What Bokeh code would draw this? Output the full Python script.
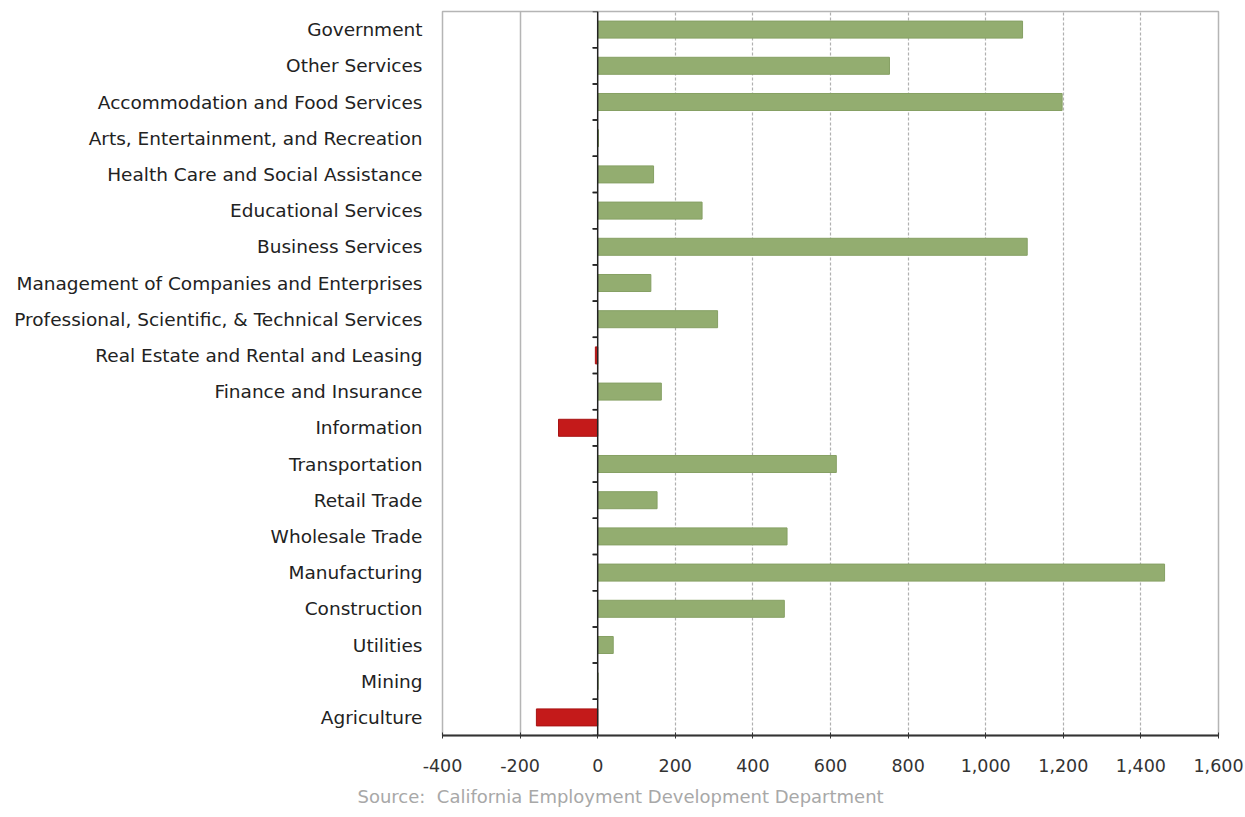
from bokeh.plotting import figure
from bokeh.models import (ColumnDataSource, FactorRange, Span, Grid, FixedTicker,
                          NumeralTickFormatter, Title, Range1d)
from bokeh.transform import dodge
from bokeh.embed import file_html
from bokeh.resources import INLINE

# ---- data (top to bottom as in the chart) ----
industries = [
    "Government", "Other Services", "Accommodation and Food Services",
    "Arts, Entertainment, and Recreation", "Health Care and Social Assistance",
    "Educational Services", "Business Services",
    "Management of Companies and Enterprises",
    "Professional, Scientific, & Technical Services",
    "Real Estate and Rental and Leasing", "Finance and Insurance",
    "Information", "Transportation", "Retail Trade", "Wholesale Trade",
    "Manufacturing", "Construction", "Utilities", "Mining", "Agriculture",
]
job_change = [1095, 752, 1197, 2, 144, 269, 1107, 137, 309, -6, 164,
              -101, 615, 153, 488, 1461, 481, 40, 1, -158]
x_ticks = [-400, -200, 0, 200, 400, 600, 800, 1000, 1200, 1400, 1600]
source_note = "Source:\u00a0 California Employment Development Department"

GREEN = "#93ad70"
GREEN_LINE = "#86a064"
RED = "#c41a1a"
RED_LINE = "#a81414"

colors = [GREEN if v >= 0 else RED for v in job_change]
lines = [GREEN_LINE if v >= 0 else RED_LINE for v in job_change]
src = ColumnDataSource(dict(cat=industries, val=job_change, fill=colors, line=lines,
                            zero=[0] * len(industries), tick0=[-13] * len(industries)))

p = figure(width=1245, height=817, output_backend="svg", toolbar_location=None,
           y_range=FactorRange(factors=list(reversed(industries)), range_padding=0),
           x_range=Range1d(-400, 1600),
           min_border_left=442, min_border_right=27, min_border_top=11,
           min_border_bottom=82)

p.background_fill_color = "white"
p.border_fill_color = "white"
p.outline_line_color = "#b5b5b5"
p.outline_line_width = 1.5

# grid
p.ygrid.visible = False
p.xgrid.ticker = FixedTicker(ticks=[t for t in x_ticks if t > 0 and t < 1600])
p.xgrid.grid_line_color = "#b0b0b0"
p.xgrid.grid_line_dash = "3 2"
p.xgrid.grid_line_width = 1.2
solid_grid = Grid(dimension=0, ticker=FixedTicker(ticks=[t for t in x_ticks if -400 < t < 0]),
                  grid_line_color="#b5b5b5", grid_line_width=1.5)
p.add_layout(solid_grid)

# bars
p.hbar(y="cat", right="val", left=0, height=0.47, source=src,
       fill_color="fill", line_color="line", line_width=1)

# zero line and its ticks
p.add_layout(Span(location=0, dimension="height", line_color="#222222", line_width=1.5))
p.segment(x0="tick0", x1="zero", y0=dodge("cat", 0.5, range=p.y_range),
          y1=dodge("cat", 0.5, range=p.y_range), source=src, line_color="#222222", line_width=1.5)
p.segment(x0="tick0", x1="zero", y0=dodge("cat", -0.5, range=p.y_range),
          y1=dodge("cat", -0.5, range=p.y_range), source=src, line_color="#222222", line_width=1.5)

# x axis
xa = p.xaxis[0]
xa.ticker = FixedTicker(ticks=x_ticks)
xa.formatter = NumeralTickFormatter(format="0,0")
xa.axis_line_color = "#333333"
xa.axis_line_width = 2
xa.major_tick_line_color = "#333333"
xa.major_tick_out = 3
xa.major_tick_in = 3
xa.minor_tick_line_color = None
xa.major_label_standoff = 20
xa.major_label_text_font = "DejaVu Sans"
xa.major_label_text_font_size = "17.5px"
xa.major_label_text_color = "#333333"

# y axis (labels only)
ya = p.yaxis[0]
ya.axis_line_color = None
ya.major_tick_line_color = None
ya.minor_tick_line_color = None
ya.major_label_standoff = 14
ya.major_label_text_font = "DejaVu Sans"
ya.major_label_text_font_size = "18.5px"
ya.major_label_text_color = "#222222"

# source note
p.add_layout(Title(text=source_note, align="left", offset=-85, standoff=18,
                   text_font="DejaVu Sans", text_font_size="18px",
                   text_font_style="normal", text_color="#a8a8a8"), "below")

open("out.html", "w").write(file_html(p, INLINE))
